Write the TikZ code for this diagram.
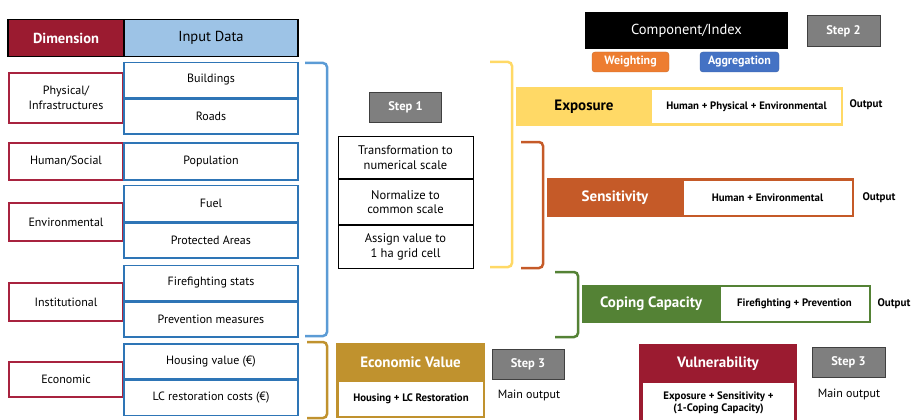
\documentclass[tikz,border=0pt]{standalone}
\usepackage{fontspec}
\setmainfont{PT Sans}
\usepackage{tikz}
\usetikzlibrary{positioning}

\definecolor{dimred}{HTML}{9B1B30}
\definecolor{dimline}{HTML}{A8233F}
\definecolor{inblue}{HTML}{2E75B6}
\definecolor{inhead}{HTML}{9DC3E6}
\definecolor{brblue}{HTML}{5B9BD5}
\definecolor{expyellow}{HTML}{FFD966}
\definecolor{sensorange}{HTML}{C55A28}
\definecolor{copgreen}{HTML}{548235}
\definecolor{ecogold}{HTML}{C0922E}
\definecolor{weightorange}{HTML}{ED7D31}
\definecolor{aggrblue}{HTML}{4472C4}
\definecolor{stepgray}{HTML}{7F7F7F}

\begin{document}
\begin{tikzpicture}[x=1pt, y=-1pt,
    box/.style={inner sep=0pt, align=center, font=\fontsize{12}{15}\selectfont},
    dimbox/.style={box, draw=dimline, line width=1.5pt, minimum width=114pt},
    inbox/.style={box, draw=inblue, line width=1.5pt, minimum width=174pt, minimum height=35pt},
    procbox/.style={box, draw=black, line width=1pt, minimum width=135pt, font=\fontsize{12.5}{14.5}\selectfont},
    stepbox/.style={box, fill=stepgray, draw=black!75, line width=1pt, text=white,
        font=\fontsize{12.5}{14}\selectfont\bfseries, minimum width=72pt, minimum height=30pt},
    tagbox/.style={box, rounded corners=3pt, text=white, font=\fontsize{12}{13}\selectfont\bfseries,
        minimum height=20pt},
    compbox/.style={inner sep=0pt},
    innerbox/.style={box, fill=white, font=\fontsize{10.8}{12}\selectfont\bfseries},
    complabel/.style={box, font=\fontsize{15}{17}\selectfont\bfseries},
    outlabel/.style={font=\fontsize{11}{12}\selectfont\bfseries, inner sep=0pt},
    mainlabel/.style={font=\fontsize{12}{14}\selectfont, inner sep=0pt},
    bracket/.style={line width=2.5pt, rounded corners=4pt}
]
\useasboundingbox (0,0) rectangle (911,420);

% headers
\node[box, fill=dimred, draw=black, line width=1.2pt, text=white, minimum width=116pt, minimum height=37pt,
    font=\fontsize{14.5}{16}\selectfont\bfseries] (dimhead) at (66,38) {Dimension};
\node[box, fill=inhead, draw=black, line width=1.2pt, minimum width=174pt, minimum height=37pt,
    font=\fontsize{14.5}{16}\selectfont] (inhead) at (211,38) {Input Data};

% dimensions
\node[dimbox, minimum height=50pt] (dphys) at (66,98) {Physical/\\Infrastructures};
\node[dimbox, minimum height=37pt] (dhum) at (66,161.5) {Human/Social};
\node[dimbox, minimum height=38pt] (denv) at (66,222) {Environmental};
\node[dimbox, minimum height=38pt] (dinst) at (66,302) {Institutional};
\node[dimbox, minimum height=35pt] (deco) at (66,379.5) {Economic};

% input data
\node[inbox] (ibuild) at (211,80) {Buildings};
\node[inbox, below=0pt of ibuild] (iroads) {Roads};
\node[inbox, minimum height=37pt] (ipop) at (211,161.5) {Population};
\node[inbox, minimum height=36pt] (ifuel) at (211,203.5) {Fuel};
\node[inbox, below=0pt of ifuel] (iprot) {Protected Areas};
\node[inbox] (ifire) at (211,283) {Firefighting stats};
\node[inbox, below=0pt of ifire] (iprev) {Prevention measures};
\node[inbox] (ihouse) at (211,361.5) {Housing value (€)};
\node[inbox, below=0pt of ihouse] (ilc) {LC restoration costs (€)};

% brackets
\draw[bracket, brblue] (305,63) -- (327,63) -- (327,336) -- (305,336);
\draw[bracket, ecogold] (307,342) -- (327,342) -- (327,418) -- (307,418);
\draw[bracket, expyellow] (490,62) -- (512,62) -- (512,267) -- (490,267);
\draw[bracket, sensorange] (521,142) -- (543,142) -- (543,268) -- (521,268);
\draw[bracket, copgreen] (555,272) -- (578,272) -- (578,337) -- (555,337);

% step 1
\node[stepbox] (step1) at (405.5,107.5) {Step 1};
\node[procbox, minimum height=42pt] (ptrans) at (405.5,157.5) {Transformation to\\numerical scale};
\node[procbox, minimum height=45pt, below=0pt of ptrans] (pnorm) {Normalize to\\common scale};
\node[procbox, minimum height=43pt, below=0pt of pnorm] (passign) {Assign value to\\1 ha grid cell};

% step 2
\node[box, fill=black, text=white, minimum width=203pt, minimum height=37pt,
    font=\fontsize{14.5}{16}\selectfont] (comp) at (686.5,30.5) {Component/Index};
\node[stepbox, minimum width=73pt, minimum height=31pt] (step2) at (843.5,31.5) {Step 2};
\node[tagbox, fill=weightorange, draw=weightorange!85!black, minimum width=77pt] (weight) at (630.5,62) {Weighting};
\node[tagbox, fill=aggrblue, draw=aggrblue!85!black, minimum width=79pt] (aggr) at (739.5,62) {Aggregation};

% exposure
\node[compbox, fill=expyellow, minimum width=327pt, minimum height=39pt] (expo) at (679.5,106.5) {};
\node[innerbox, minimum width=189pt, minimum height=33pt] (expoin) at (746.5,106.5) {Human + Physical + Environmental};
\node[complabel] (expolbl) at (584,106.5) {Exposure};
\node[outlabel] (expoout) at (866,105) {Output};

% sensitivity
\node[compbox, fill=sensorange, minimum width=307pt, minimum height=39pt] (sens) at (700.5,197.5) {};
\node[innerbox, minimum width=168pt, minimum height=34pt] (sensin) at (767.5,197.5) {Human + Environmental};
\node[complabel, text=white] (senslbl) at (615,197.5) {Sensitivity};
\node[outlabel] (sensout) at (879,198) {Output};

% coping capacity
\node[compbox, fill=copgreen, minimum width=289pt, minimum height=38pt] (cop) at (726.5,304) {};
\node[innerbox, minimum width=148pt, minimum height=34pt] (copin) at (794.5,304) {Firefighting + Prevention};
\node[complabel, text=white] (coplbl) at (651,304) {Coping Capacity};
\node[outlabel] (copout) at (894,304) {Output};

% economic value
\node[compbox, fill=ecogold, minimum width=149pt, minimum height=75pt] (eco) at (410.5,380.5) {};
\node[innerbox, minimum width=144pt, minimum height=34pt] (ecoin) at (411,399) {Housing + LC Restoration};
\node[complabel, text=white] (ecolbl) at (410.5,362.5) {Economic Value};
\node[stepbox] (step3a) at (528,364) {Step 3};
\node[mainlabel] (mainout1) at (529,395) {Main output};

% vulnerability
\node[compbox, fill=dimred, minimum width=158pt, minimum height=78pt] (vul) at (718,383) {};
\node[innerbox, minimum width=151pt, minimum height=39pt] (vulin) at (718.5,402.5) {Exposure + Sensitivity +\\(1-Coping Capacity)};
\node[complabel, text=white] (vullbl) at (718,363.5) {Vulnerability};
\node[stepbox, minimum width=73pt] (step3b) at (848.5,362) {Step 3};
\node[mainlabel] (mainout2) at (849,394) {Main output};
\end{tikzpicture}
\end{document}
